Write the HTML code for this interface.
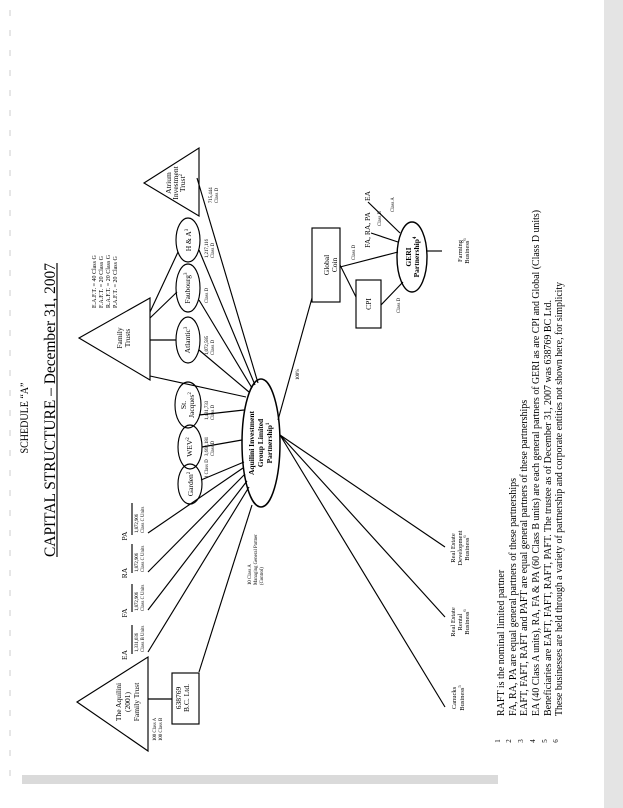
<!DOCTYPE html>
<html><head><meta charset="utf-8"><style>
html,body{margin:0;padding:0;background:#fff;}
svg{display:block;font-family:"Liberation Serif",serif;}
</style></head><body>
<svg width="623" height="808" viewBox="0 0 623 808" xmlns="http://www.w3.org/2000/svg">
<rect x="0" y="0" width="623" height="808" fill="#fff"/>
<rect x="604" y="0" width="19" height="808" fill="#e4e4e4"/>
<rect x="22" y="775" width="476" height="9" fill="#dadada"/>
<g stroke="#ccc" stroke-width="1" stroke-dasharray="6,14">
<line x1="10" y1="10" x2="10" y2="780"/>
</g>
<g fill="none" stroke="#000" stroke-width="1.15">
<polygon points="79,338 150,298 150,380"/>
<polygon points="144,183 199,148 199,216"/>
<polygon points="77,702 148,657 148,751"/>
<ellipse cx="188" cy="340" rx="12" ry="23"/>
<ellipse cx="188" cy="288" rx="12" ry="24"/>
<ellipse cx="188" cy="240" rx="12" ry="22"/>
<ellipse cx="188" cy="405" rx="13" ry="23"/>
<ellipse cx="190" cy="447" rx="12" ry="22"/>
<ellipse cx="190" cy="484" rx="12" ry="20"/>
<ellipse cx="261" cy="443" rx="19" ry="64" stroke-width="1.5"/>
<ellipse cx="412" cy="257" rx="15" ry="35" stroke-width="1.4"/>
<rect x="312" y="228" width="28" height="74"/>
<rect x="356" y="280" width="25" height="48"/>
<rect x="172" y="673" width="27" height="51"/>
<line x1="150" y1="340" x2="176" y2="340"/>
<line x1="150" y1="318" x2="177" y2="292"/>
<line x1="150" y1="312" x2="178" y2="252"/>
<line x1="150" y1="376" x2="246" y2="397"/>
<line x1="199" y1="350" x2="249" y2="392"/>
<line x1="199" y1="300" x2="252" y2="388"/>
<line x1="199" y1="250" x2="255" y2="385"/>
<line x1="197" y1="178" x2="258" y2="383"/>
<line x1="199" y1="415" x2="244" y2="410"/>
<line x1="202" y1="447" x2="242" y2="440"/>
<line x1="201" y1="480" x2="244" y2="462"/>
<line x1="148" y1="652" x2="249" y2="487"/>
<line x1="148" y1="610" x2="247" y2="481"/>
<line x1="148" y1="572" x2="245" y2="474"/>
<line x1="148" y1="533" x2="243" y2="468"/>
<line x1="148" y1="699" x2="172" y2="699"/>
<line x1="199" y1="672" x2="252" y2="505"/>
<line x1="278" y1="420" x2="312" y2="298"/>
<line x1="280" y1="435" x2="445" y2="547"/>
<line x1="280" y1="435" x2="445" y2="617"/>
<line x1="280" y1="435" x2="445" y2="707"/>
<line x1="340" y1="267" x2="398" y2="252"/>
<line x1="340" y1="265" x2="356" y2="297"/>
<line x1="381" y1="305" x2="403" y2="282"/>
<line x1="371" y1="233" x2="398" y2="242"/>
<line x1="368" y1="202" x2="400" y2="233"/>
<line x1="427" y1="251" x2="442" y2="251"/>
<line x1="132" y1="625" x2="132" y2="654"/>
<line x1="132" y1="584" x2="132" y2="612"/>
<line x1="132" y1="544" x2="132" y2="573"/>
<line x1="132" y1="503" x2="132" y2="535"/>
<line x1="57" y1="263" x2="57" y2="557"/>
</g>
<g fill="#000">
<text transform="translate(28,418) rotate(-90)" text-anchor="middle" font-size="11.5" textLength="71" lengthAdjust="spacingAndGlyphs">SCHEDULE “A”</text>
<text transform="translate(55,410) rotate(-90)" text-anchor="middle" font-size="16" textLength="294" lengthAdjust="spacingAndGlyphs">CAPITAL STRUCTURE – December 31, 2007</text>

<g font-size="7.5" text-anchor="middle">
<text transform="translate(122,338) rotate(-90)">Family</text>
<text transform="translate(130,338) rotate(-90)">Trusts</text>
<text transform="translate(171,183) rotate(-90)">Atrium</text>
<text transform="translate(178,183) rotate(-90)">Investment</text>
<text transform="translate(185,183) rotate(-90)">Trust<tspan font-size="5" dy="-3">2</tspan></text>
<text transform="translate(121,702) rotate(-90)">The Aquilini</text>
<text transform="translate(130,702) rotate(-90)">(2001)</text>
<text transform="translate(139,702) rotate(-90)">Family Trust</text>
<text transform="translate(190,340) rotate(-90)">Atlantic<tspan font-size="5" dy="-3">3</tspan></text>
<text transform="translate(190,288) rotate(-90)">Faubourg<tspan font-size="5" dy="-3">3</tspan></text>
<text transform="translate(191,240) rotate(-90)">H &amp; A<tspan font-size="5" dy="-3">3</tspan></text>
<text transform="translate(186,405) rotate(-90)">St.</text>
<text transform="translate(194,405) rotate(-90)">Jacques<tspan font-size="5" dy="-3">2</tspan></text>
<text transform="translate(192,447) rotate(-90)">WEV<tspan font-size="5" dy="-3">2</tspan></text>
<text transform="translate(193,484) rotate(-90)">Garden<tspan font-size="5" dy="-3">2</tspan></text>
<text transform="translate(189,698) rotate(-90)">B.C. Ltd.</text>
<text transform="translate(181,698) rotate(-90)">638769</text>
<text transform="translate(329,265) rotate(-90)">Global</text>
<text transform="translate(337,265) rotate(-90)">Coin</text>
<text transform="translate(371,304) rotate(-90)">CPI</text>
</g>
<g font-size="7.5" text-anchor="middle" font-weight="bold">
<text transform="translate(254,443) rotate(-90)">Aquilini Investment</text>
<text transform="translate(263,443) rotate(-90)">Group Limited</text>
<text transform="translate(272,443) rotate(-90)">Partnership<tspan font-size="5" dy="-3">1</tspan></text>
<text transform="translate(411,257) rotate(-90)">GERI</text>
<text transform="translate(419,257) rotate(-90)">Partnership<tspan font-size="5" dy="-3">4</tspan></text>
</g>
<g font-size="6.5" text-anchor="middle">
<text transform="translate(455,548) rotate(-90)">Real Estate</text>
<text transform="translate(462,548) rotate(-90)">Development</text>
<text transform="translate(469,548) rotate(-90)">Business<tspan font-size="4.5" dy="-3">6</tspan></text>
<text transform="translate(455,622) rotate(-90)">Real Estate</text>
<text transform="translate(462,622) rotate(-90)">Rental</text>
<text transform="translate(469,622) rotate(-90)">Business<tspan font-size="4.5" dy="-3">6</tspan></text>
<text transform="translate(456,698) rotate(-90)">Canucks</text>
<text transform="translate(464,698) rotate(-90)">Business<tspan font-size="4.5" dy="-3">5</tspan></text>
<text transform="translate(462,251) rotate(-90)">Farming</text>
<text transform="translate(469,251) rotate(-90)">Business<tspan font-size="4.5" dy="-3">6</tspan></text>
</g>
<g font-size="7.5" text-anchor="middle">
<text transform="translate(127,655) rotate(-90)">EA</text>
<text transform="translate(127,613) rotate(-90)">FA</text>
<text transform="translate(127,573) rotate(-90)">RA</text>
<text transform="translate(127,536) rotate(-90)">PA</text>
<text transform="translate(370,196) rotate(-90)">EA</text>
<text transform="translate(370,230) rotate(-90)">FA, RA, PA</text>
</g>
<g font-size="4.8" text-anchor="start">
<text transform="translate(138,652) rotate(-90)">1,331,036</text>
<text transform="translate(144,652) rotate(-90)">Class B Units</text>
<text transform="translate(138,611) rotate(-90)">1,872,906</text>
<text transform="translate(144,611) rotate(-90)">Class C Units</text>
<text transform="translate(138,572) rotate(-90)">1,872,906</text>
<text transform="translate(144,572) rotate(-90)">Class C Units</text>
<text transform="translate(138,533) rotate(-90)">1,872,906</text>
<text transform="translate(144,533) rotate(-90)">Class C Units</text>
<text transform="translate(156,741) rotate(-90)">100 Class A</text>
<text transform="translate(162,741) rotate(-90)">100 Class B</text>
<text transform="translate(251,585) rotate(-90)">10 Class A</text>
<text transform="translate(257,585) rotate(-90)">Managing General Partner</text>
<text transform="translate(263,585) rotate(-90)">(Control)</text>
<text transform="translate(208,355) rotate(-90)">1,072,585</text>
<text transform="translate(214,355) rotate(-90)">Class D</text>
<text transform="translate(208,303) rotate(-90)">Class D</text>
<text transform="translate(208,258) rotate(-90)">1,217,116</text>
<text transform="translate(214,258) rotate(-90)">Class D</text>
<text transform="translate(212,203) rotate(-90)">715,444</text>
<text transform="translate(218,203) rotate(-90)">Class D</text>
<text transform="translate(208,420) rotate(-90)">1,431,733</text>
<text transform="translate(214,420) rotate(-90)">Class D</text>
<text transform="translate(208,456) rotate(-90)">3,668,181</text>
<text transform="translate(214,456) rotate(-90)">Class D</text>
<text transform="translate(208,478) rotate(-90)">1 Class D</text>
<text transform="translate(299,380) rotate(-90)">100%</text>
<text transform="translate(355,260) rotate(-90)">Class D</text>
<text transform="translate(400,313) rotate(-90)">Class D</text>
<text transform="translate(381,226) rotate(-90)">Class B</text>
<text transform="translate(394,212) rotate(-90)">Class A</text>
</g>
<g font-size="6" text-anchor="start">
<text transform="translate(96,308) rotate(-90)">E.A.F.T. = 40 Class G</text>
<text transform="translate(103,308) rotate(-90)">F.A.F.T. = 20 Class G</text>
<text transform="translate(110,308) rotate(-90)">R.A.F.T. = 20 Class G</text>
<text transform="translate(117,308) rotate(-90)">P.A.F.T. = 20 Class G</text>
</g>
<g font-size="7" text-anchor="middle">
<text transform="translate(500,741) rotate(-90)">1</text>
<text transform="translate(511,741) rotate(-90)">2</text>
<text transform="translate(523,741) rotate(-90)">3</text>
<text transform="translate(535,741) rotate(-90)">4</text>
<text transform="translate(547,741) rotate(-90)">5</text>
<text transform="translate(558,741) rotate(-90)">6</text>
</g>
<g font-size="10" text-anchor="start">
<text transform="translate(504,716) rotate(-90)">RAFT is the nominal limited partner</text>
<text transform="translate(516,716) rotate(-90)">FA, RA, PA are equal general partners of these partnerships</text>
<text transform="translate(527,716) rotate(-90)">EAFT, FAFT, RAFT and PAFT are equal general partners of these partnerships</text>
<text transform="translate(539,716) rotate(-90)" textLength="506" lengthAdjust="spacingAndGlyphs">EA (40 Class A units), RA, FA &amp; PA (60 Class B units) are each general partners of GERI as are CPI and Global (Class D units)</text>
<text transform="translate(551,716) rotate(-90)" textLength="416" lengthAdjust="spacingAndGlyphs">Beneficiaries are EAFT, FAFT, RAFT, PAFT. The trustee as of December 31, 2007 was 638769 BC Ltd.</text>
<text transform="translate(562,716) rotate(-90)" textLength="434" lengthAdjust="spacingAndGlyphs">These businesses are held through a variety of partnership and corporate entities not shown here, for simplicity</text>
</g>
</g>
</svg>
</body></html>
